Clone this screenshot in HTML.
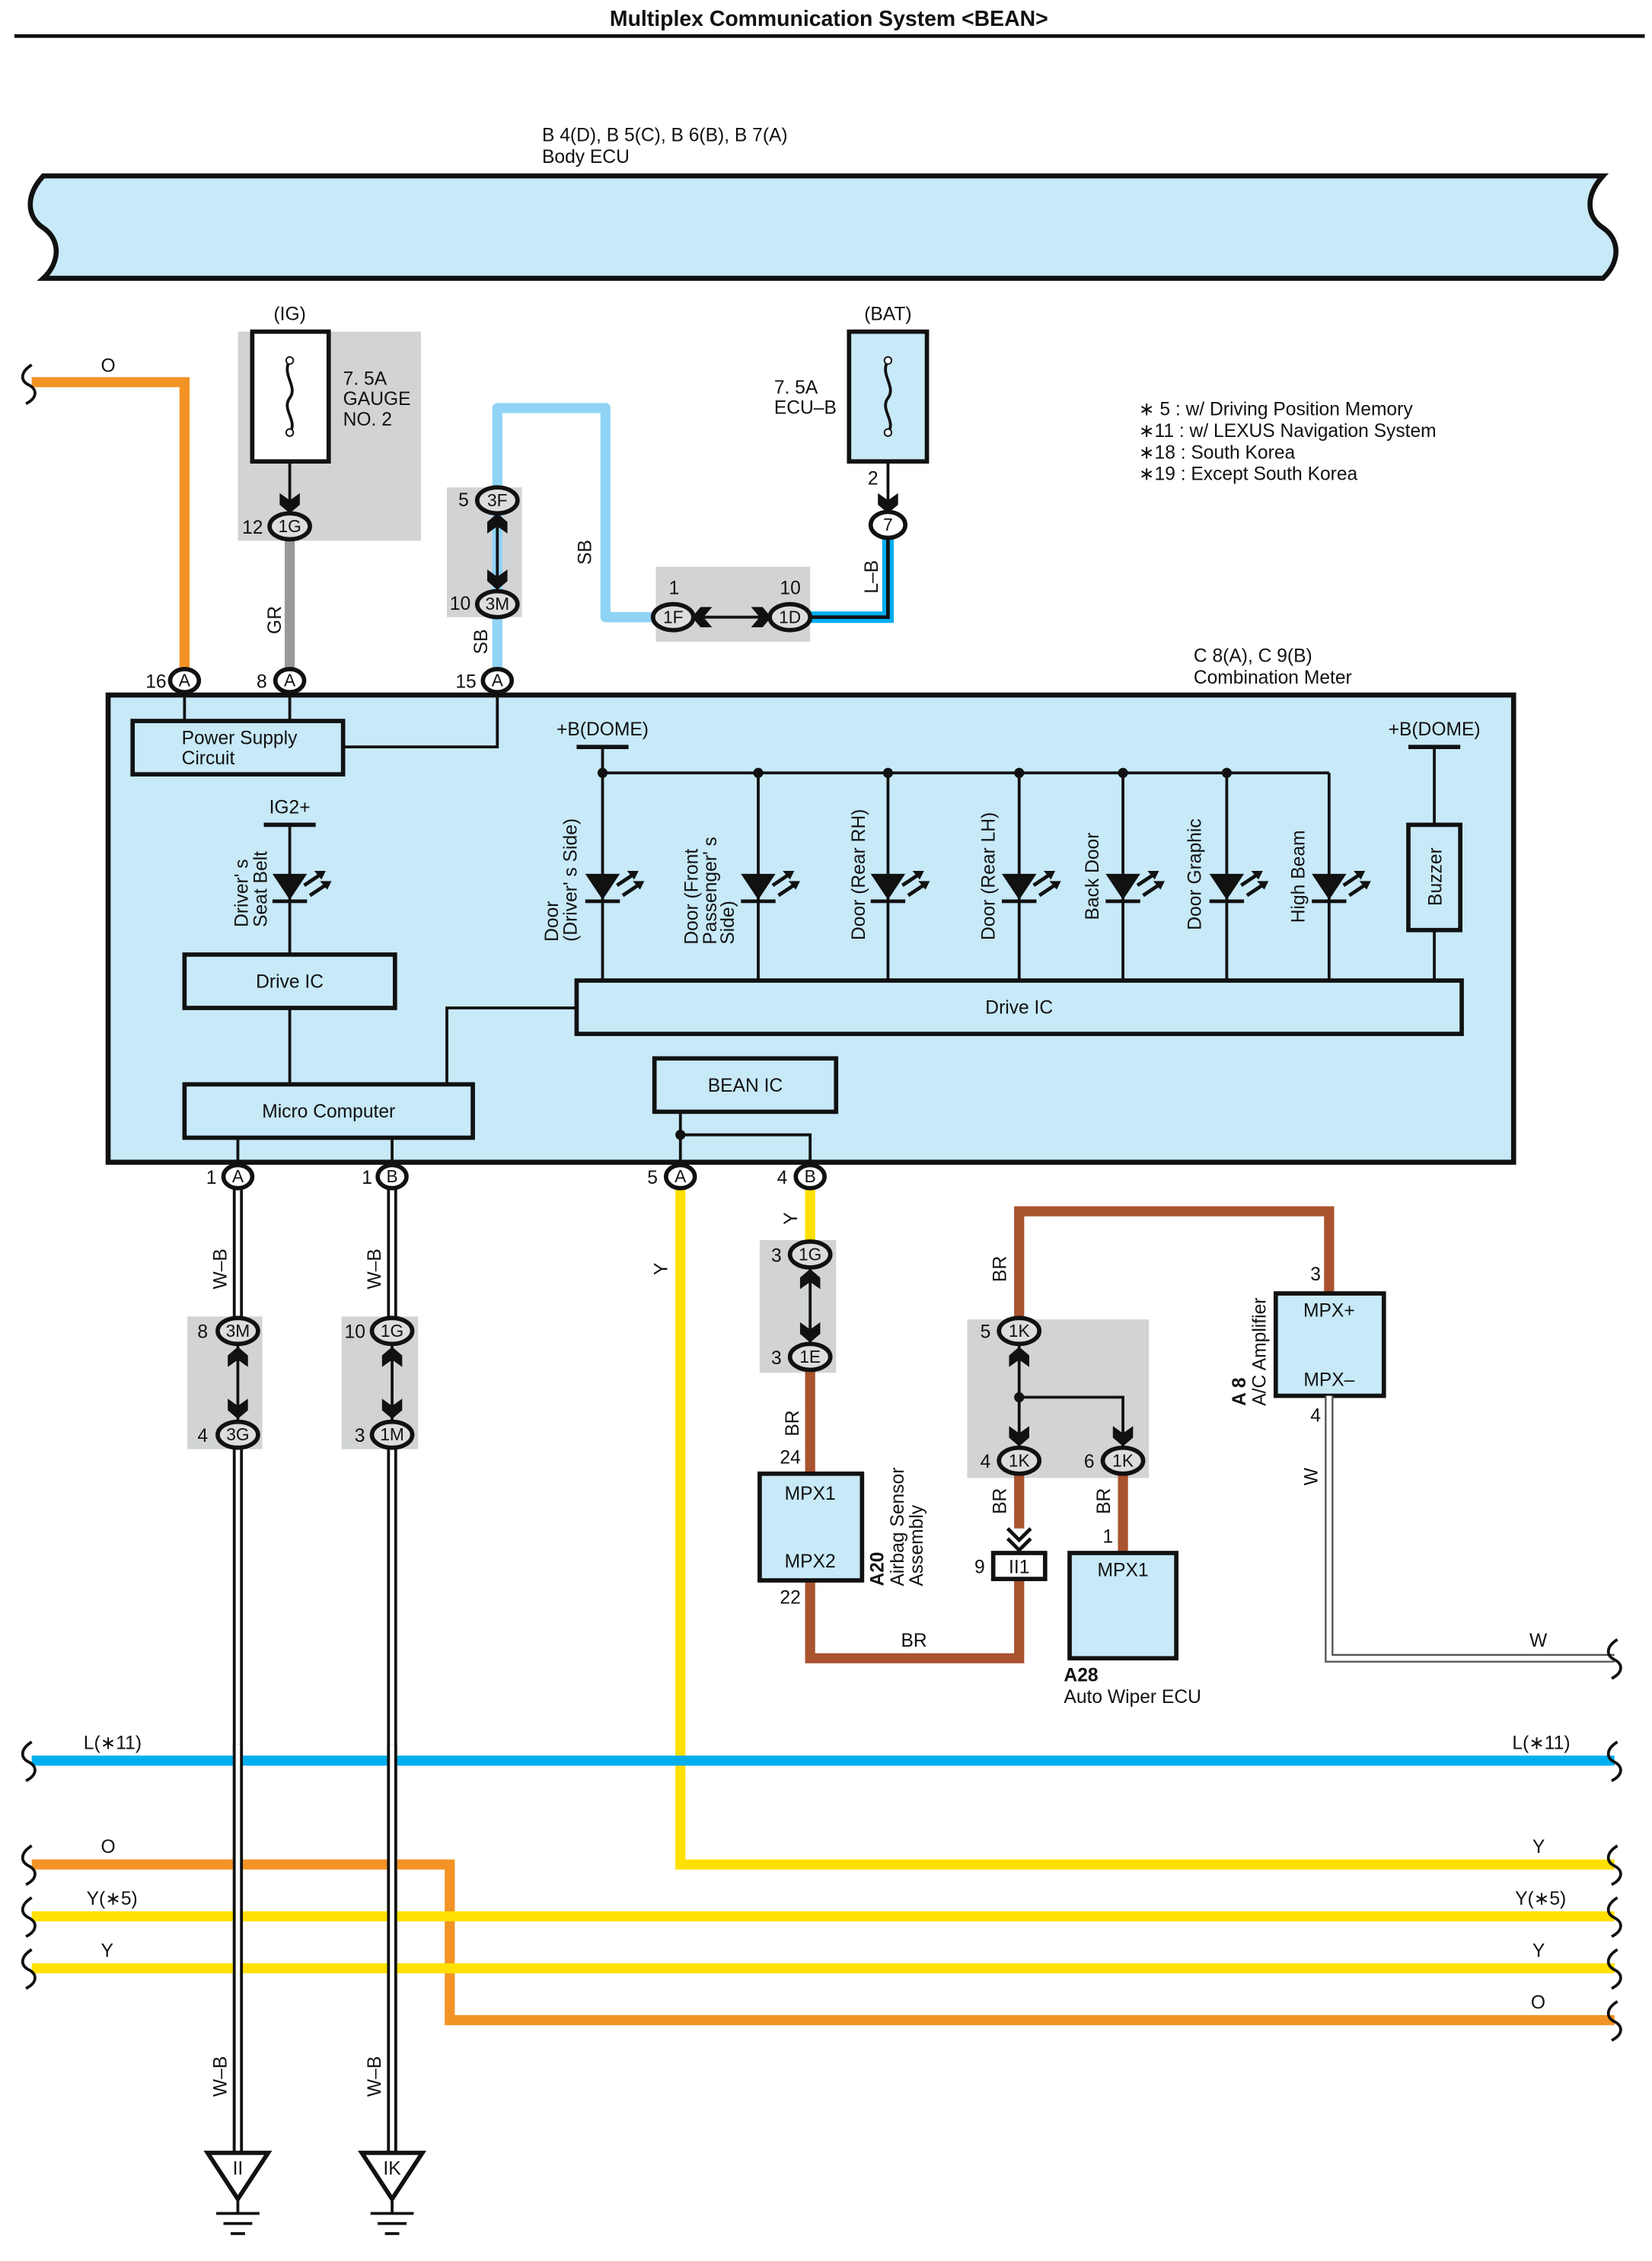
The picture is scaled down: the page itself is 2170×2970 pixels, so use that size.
<!DOCTYPE html>
<html><head><meta charset="utf-8"><style>
html,body{margin:0;padding:0;background:#fff;}
svg{display:block;}
text{font-family:"Liberation Sans",Arial,sans-serif;fill:#111;}
</style></head><body>
<svg width="2170" height="2970" viewBox="0 0 1146 1568" preserveAspectRatio="none" xmlns="http://www.w3.org/2000/svg">
<defs>
<g id="led"><polygon points="-12,-10 12,-10 0,8" fill="#111"/><line x1="-12" y1="9" x2="12" y2="9" stroke="#111" stroke-width="2.5"/><line x1="10" y1="-2" x2="22" y2="-10" stroke="#111" stroke-width="2.5"/><polygon points="25,-12 17,-12 22,-6" fill="#111"/><line x1="14" y1="5" x2="26" y2="-3" stroke="#111" stroke-width="2.5"/><polygon points="29,-5 21,-5 26,1" fill="#111"/></g>
<g id="arrD"><polygon points="-7,-8 0,-3 7,-8 7,0 0,6 -7,0" fill="#111"/></g>
<g id="arrU"><polygon points="-7,8 0,3 7,8 7,0 0,-6 -7,0" fill="#111"/></g>
<g id="gnd"><line x1="0" y1="32" x2="0" y2="42" stroke="#111" stroke-width="2"/><line x1="-15" y1="42" x2="15" y2="42" stroke="#111" stroke-width="2"/><line x1="-10" y1="49" x2="10" y2="49" stroke="#111" stroke-width="2"/><line x1="-5" y1="56" x2="5" y2="56" stroke="#111" stroke-width="2"/><polygon points="-21,0 21,0 0,32" fill="#fff" stroke="#111" stroke-width="3"/></g>
</defs>

<text x="575" y="18" font-size="15" font-weight="bold" text-anchor="middle">Multiplex Communication System &lt;BEAN&gt;</text>
<line x1="10" y1="25" x2="1141" y2="25" stroke="#111" stroke-width="2.5"/>

<text x="376" y="98" font-size="13">B 4(D), B 5(C), B 6(B), B 7(A)</text>
<text x="376" y="113" font-size="13">Body ECU</text>
<path d="M30,122 L1112,122 C1100,135 1100,150 1112,158 C1124,166 1124,182 1112,193 L30,193 C42,182 42,166 30,158 C18,150 18,135 30,122 Z" fill="#c7e9f8" stroke="#111" stroke-width="3.5"/>

<rect x="165" y="230" width="127" height="145" fill="#d1d3d4"/>
<rect x="310" y="338" width="52" height="90" fill="#d1d3d4"/>
<rect x="455" y="393" width="107" height="52" fill="#d1d3d4"/>
<rect x="130" y="913" width="52" height="92" fill="#d1d3d4"/>
<rect x="237" y="913" width="53" height="92" fill="#d1d3d4"/>
<rect x="527" y="860" width="53" height="92" fill="#d1d3d4"/>
<rect x="671" y="915" width="126" height="110" fill="#d1d3d4"/>

<path d="M22,265 L128,265 L128,465" fill="none" stroke="#f39325" stroke-width="7"/>
<path d="M22,253 C14,258 14,264 20,267 C26,270 26,276 18,280" fill="none" stroke="#111" stroke-width="2"/>
<text x="70" y="258" font-size="13">O</text>

<text x="201" y="222" font-size="13" text-anchor="middle">(IG)</text>
<rect x="175" y="230" width="53" height="90" fill="#fff" stroke="#111" stroke-width="3"/>
<path d="M201,250 C195,260 207,268 201,276 C195,284 207,292 201,300" fill="none" stroke="#111" stroke-width="2"/>
<circle cx="201" cy="250" r="2.5" fill="#fff" stroke="#111"/><circle cx="201" cy="300" r="2.5" fill="#fff" stroke="#111"/>
<line x1="201" y1="320" x2="201" y2="350" stroke="#111" stroke-width="2"/>
<use href="#arrD" x="201" y="350"/>
<text x="238" y="267" font-size="13">7. 5A</text>
<text x="238" y="281" font-size="13">GAUGE</text>
<text x="238" y="295" font-size="13">NO. 2</text>
<line x1="201" y1="373" x2="201" y2="465" stroke="#999" stroke-width="7"/>
<text transform="rotate(-90 195 430)" x="195" y="430" font-size="13" text-anchor="middle">GR</text>

<path d="M345,410 L345,283 L420,283 L420,428 L460,428" fill="none" stroke="#8fd3f5" stroke-width="7" stroke-linejoin="round"/>
<line x1="345" y1="428" x2="345" y2="465" stroke="#8fd3f5" stroke-width="7"/>
<line x1="345" y1="355" x2="345" y2="410" stroke="#111" stroke-width="2"/>
<use href="#arrU" x="345" y="362"/><use href="#arrD" x="345" y="403"/>
<text transform="rotate(-90 410 383)" x="410" y="383" font-size="13" text-anchor="middle">SB</text>
<text transform="rotate(-90 338 445)" x="338" y="445" font-size="13" text-anchor="middle">SB</text>

<text x="616" y="222" font-size="13" text-anchor="middle">(BAT)</text>
<rect x="589" y="230" width="54" height="90" fill="#c7e9f8" stroke="#111" stroke-width="3"/>
<path d="M616,250 C610,260 622,268 616,276 C610,284 622,292 616,300" fill="none" stroke="#111" stroke-width="2"/>
<circle cx="616" cy="250" r="2.5" fill="#fff" stroke="#111"/><circle cx="616" cy="300" r="2.5" fill="#fff" stroke="#111"/>
<line x1="616" y1="320" x2="616" y2="350" stroke="#111" stroke-width="2"/>
<use href="#arrD" x="616" y="350"/>
<text x="537" y="273" font-size="13">7. 5A</text>
<text x="537" y="287" font-size="13">ECU–B</text>
<text x="602" y="336" font-size="13">2</text>
<path d="M616,372 L616,428 L555,428" fill="none" stroke="#00aeef" stroke-width="8"/>
<path d="M616,372 L616,428 L555,428" fill="none" stroke="#111" stroke-width="2.5"/>
<text transform="rotate(-90 609 400)" x="609" y="400" font-size="13" text-anchor="middle">L–B</text>
<line x1="478" y1="428" x2="537" y2="428" stroke="#111" stroke-width="2"/>
<polygon points="480,428 486,421 494,421 488,428 494,435 486,435" fill="#111"/>
<polygon points="535,428 529,421 521,421 527,428 521,435 529,435" fill="#111"/>
<text x="464" y="412" font-size="13">1</text>
<text x="541" y="412" font-size="13">10</text>

<text x="790" y="288" font-size="13">∗ 5 : w/ Driving Position Memory</text>
<text x="790" y="303" font-size="13">∗11 : w/ LEXUS Navigation System</text>
<text x="790" y="318" font-size="13">∗18 : South Korea</text>
<text x="790" y="333" font-size="13">∗19 : Except South Korea</text>

<text x="828" y="459" font-size="13">C 8(A), C 9(B)</text>
<text x="828" y="474" font-size="13">Combination Meter</text>
<rect x="75" y="482" width="975" height="324" fill="#c7e9f8" stroke="#111" stroke-width="3.5"/>
<line x1="128" y1="480" x2="128" y2="500" stroke="#111" stroke-width="2"/>
<line x1="201" y1="480" x2="201" y2="500" stroke="#111" stroke-width="2"/>
<path d="M238,518 L345,518 L345,480" fill="none" stroke="#111" stroke-width="2"/>
<rect x="92" y="500" width="146" height="37" fill="#c7e9f8" stroke="#111" stroke-width="3"/>
<text x="126" y="516" font-size="13">Power Supply</text>
<text x="126" y="530" font-size="13">Circuit</text>

<text x="201" y="564" font-size="13" text-anchor="middle">IG2+</text>
<line x1="183" y1="572" x2="219" y2="572" stroke="#111" stroke-width="3"/>
<line x1="201" y1="572" x2="201" y2="662" stroke="#111" stroke-width="2"/>
<use href="#led" x="201" y="616"/>
<text transform="rotate(-90 172 643)" x="172" y="643" font-size="13">Driver' s</text>
<text transform="rotate(-90 185 643)" x="185" y="643" font-size="13">Seat Belt</text>
<rect x="128" y="662" width="146" height="37" fill="#c7e9f8" stroke="#111" stroke-width="3"/>
<text x="201" y="685" font-size="13" text-anchor="middle">Drive IC</text>
<line x1="201" y1="699" x2="201" y2="752" stroke="#111" stroke-width="2"/>
<path d="M310,752 L310,699 L400,699" fill="none" stroke="#111" stroke-width="2"/>
<rect x="128" y="752" width="200" height="37" fill="#c7e9f8" stroke="#111" stroke-width="3"/>
<text x="228" y="775" font-size="13" text-anchor="middle">Micro Computer</text>

<text x="418" y="510" font-size="13" text-anchor="middle">+B(DOME)</text>
<line x1="400" y1="518" x2="436" y2="518" stroke="#111" stroke-width="3"/>
<line x1="418" y1="518" x2="418" y2="680" stroke="#111" stroke-width="2"/>
<line x1="418" y1="536" x2="922" y2="536" stroke="#111" stroke-width="2"/>
<g fill="#111"><circle cx="418" cy="536" r="3.5"/><circle cx="526" cy="536" r="3.5"/><circle cx="616" cy="536" r="3.5"/><circle cx="707" cy="536" r="3.5"/><circle cx="779" cy="536" r="3.5"/><circle cx="851" cy="536" r="3.5"/></g>
<g stroke="#111" stroke-width="2"><line x1="526" y1="536" x2="526" y2="680"/><line x1="616" y1="536" x2="616" y2="680"/><line x1="707" y1="536" x2="707" y2="680"/><line x1="779" y1="536" x2="779" y2="680"/><line x1="851" y1="536" x2="851" y2="680"/><line x1="922" y1="536" x2="922" y2="680"/></g>
<use href="#led" x="418" y="616"/><use href="#led" x="526" y="616"/><use href="#led" x="616" y="616"/><use href="#led" x="707" y="616"/><use href="#led" x="779" y="616"/><use href="#led" x="851" y="616"/><use href="#led" x="922" y="616"/>
<g font-size="13">
<text transform="rotate(-90 387 653)" x="387" y="653">Door</text>
<text transform="rotate(-90 400 653)" x="400" y="653">(Driver' s Side)</text>
<text transform="rotate(-90 484 655)" x="484" y="655">Door (Front</text>
<text transform="rotate(-90 497 655)" x="497" y="655">Passenger' s</text>
<text transform="rotate(-90 509 655)" x="509" y="655">Side)</text>
<text transform="rotate(-90 600 652)" x="600" y="652">Door (Rear RH)</text>
<text transform="rotate(-90 690 652)" x="690" y="652">Door (Rear LH)</text>
<text transform="rotate(-90 762 638)" x="762" y="638">Back Door</text>
<text transform="rotate(-90 833 645)" x="833" y="645">Door Graphic</text>
<text transform="rotate(-90 905 640)" x="905" y="640">High Beam</text>
</g>
<text x="995" y="510" font-size="13" text-anchor="middle">+B(DOME)</text>
<line x1="977" y1="518" x2="1013" y2="518" stroke="#111" stroke-width="3"/>
<line x1="995" y1="518" x2="995" y2="680" stroke="#111" stroke-width="2"/>
<rect x="977" y="572" width="36" height="73" fill="#c7e9f8" stroke="#111" stroke-width="3"/>
<text transform="rotate(-90 1000 608)" x="1000" y="608" font-size="13" text-anchor="middle">Buzzer</text>
<rect x="400" y="680" width="614" height="37" fill="#c7e9f8" stroke="#111" stroke-width="3"/>
<text x="707" y="703" font-size="13" text-anchor="middle">Drive IC</text>

<rect x="454" y="734" width="126" height="37" fill="#c7e9f8" stroke="#111" stroke-width="3"/>
<text x="517" y="757" font-size="13" text-anchor="middle">BEAN IC</text>
<line x1="472" y1="771" x2="472" y2="810" stroke="#111" stroke-width="2"/>
<path d="M472,787 L562,787 L562,810" fill="none" stroke="#111" stroke-width="2"/>
<circle cx="472" cy="787" r="3.5" fill="#111"/>
<line x1="165" y1="789" x2="165" y2="810" stroke="#111" stroke-width="2"/>
<line x1="272" y1="789" x2="272" y2="810" stroke="#111" stroke-width="2"/>

<line x1="165" y1="825" x2="165" y2="1495" stroke="#111" stroke-width="7"/>
<line x1="165" y1="825" x2="165" y2="1495" stroke="#fff" stroke-width="3"/>
<line x1="272" y1="825" x2="272" y2="1495" stroke="#111" stroke-width="7"/>
<line x1="272" y1="825" x2="272" y2="1495" stroke="#fff" stroke-width="3"/>
<rect x="161" y="933" width="8" height="55" fill="#d1d3d4"/>
<rect x="268" y="933" width="8" height="55" fill="#d1d3d4"/>
<line x1="165" y1="932" x2="165" y2="985" stroke="#111" stroke-width="2"/>
<line x1="272" y1="932" x2="272" y2="985" stroke="#111" stroke-width="2"/>
<use href="#arrU" x="165" y="940"/><use href="#arrD" x="165" y="978"/>
<use href="#arrU" x="272" y="940"/><use href="#arrD" x="272" y="978"/>
<text transform="rotate(-90 157 880)" x="157" y="880" font-size="13" text-anchor="middle">W–B</text>
<text transform="rotate(-90 264 880)" x="264" y="880" font-size="13" text-anchor="middle">W–B</text>
<text transform="rotate(-90 157 1440)" x="157" y="1440" font-size="13" text-anchor="middle">W–B</text>
<text transform="rotate(-90 264 1440)" x="264" y="1440" font-size="13" text-anchor="middle">W–B</text>

<path d="M472,825 L472,1293 L1120,1293" fill="none" stroke="#ffe000" stroke-width="7"/>
<text transform="rotate(-90 463 880)" x="463" y="880" font-size="13" text-anchor="middle">Y</text>
<line x1="562" y1="825" x2="562" y2="862" stroke="#ffe000" stroke-width="7"/>
<text transform="rotate(-90 553 845)" x="553" y="845" font-size="13" text-anchor="middle">Y</text>
<line x1="562" y1="878" x2="562" y2="932" stroke="#111" stroke-width="2"/>
<use href="#arrU" x="562" y="886"/><use href="#arrD" x="562" y="925"/>

<path d="M562,950 L562,1022" stroke="#a9532f" stroke-width="7" fill="none"/>
<path d="M562,1096 L562,1150 L707,1150 L707,1095" stroke="#a9532f" stroke-width="7" fill="none"/>
<text transform="rotate(-90 554 987)" x="554" y="987" font-size="13" text-anchor="middle">BR</text>
<text x="541" y="1015" font-size="13">24</text>
<text x="541" y="1112" font-size="13">22</text>
<text x="625" y="1142" font-size="13">BR</text>
<rect x="527" y="1022" width="71" height="74" fill="#c7e9f8" stroke="#111" stroke-width="3"/>
<text x="562" y="1040" font-size="13" text-anchor="middle">MPX1</text>
<text x="562" y="1087" font-size="13" text-anchor="middle">MPX2</text>
<text transform="rotate(-90 613 1100)" x="613" y="1100" font-size="13" font-weight="bold">A20</text>
<text transform="rotate(-90 627 1100)" x="627" y="1100" font-size="13">Airbag Sensor</text>
<text transform="rotate(-90 640 1100)" x="640" y="1100" font-size="13">Assembly</text>

<path d="M707,915 L707,840 L922,840 L922,897" stroke="#a9532f" stroke-width="7" fill="none"/>
<text transform="rotate(-90 698 880)" x="698" y="880" font-size="13" text-anchor="middle">BR</text>
<line x1="707" y1="932" x2="707" y2="1005" stroke="#111" stroke-width="2"/>
<path d="M707,969 L779,969 L779,1005" fill="none" stroke="#111" stroke-width="2"/>
<circle cx="707" cy="969" r="3.5" fill="#111"/>
<use href="#arrU" x="707" y="940"/><use href="#arrD" x="707" y="997"/><use href="#arrD" x="779" y="997"/>
<line x1="707" y1="1022" x2="707" y2="1060" stroke="#a9532f" stroke-width="7"/>
<text transform="rotate(-90 698 1041)" x="698" y="1041" font-size="13" text-anchor="middle">BR</text>
<path d="M699,1060 L707,1068 L715,1060 M699,1067 L707,1075 L715,1067" fill="none" stroke="#111" stroke-width="2.5"/>
<rect x="689" y="1077" width="36" height="18" fill="#fff" stroke="#111" stroke-width="3"/>
<text x="707" y="1091" font-size="13" text-anchor="middle">II1</text>
<text x="676" y="1091" font-size="13">9</text>
<line x1="779" y1="1022" x2="779" y2="1077" stroke="#a9532f" stroke-width="7"/>
<text transform="rotate(-90 770 1041)" x="770" y="1041" font-size="13" text-anchor="middle">BR</text>
<text x="765" y="1070" font-size="13">1</text>
<rect x="742" y="1077" width="74" height="73" fill="#c7e9f8" stroke="#111" stroke-width="3"/>
<text x="779" y="1093" font-size="13" text-anchor="middle">MPX1</text>
<text x="738" y="1166" font-size="13" font-weight="bold">A28</text>
<text x="738" y="1181" font-size="13">Auto Wiper ECU</text>

<text x="909" y="888" font-size="13">3</text>
<rect x="885" y="897" width="75" height="71" fill="#c7e9f8" stroke="#111" stroke-width="3"/>
<text x="922" y="913" font-size="13" text-anchor="middle">MPX+</text>
<text x="922" y="961" font-size="13" text-anchor="middle">MPX–</text>
<text transform="rotate(-90 864 975)" x="864" y="975" font-size="13" font-weight="bold">A 8</text>
<text transform="rotate(-90 878 975)" x="878" y="975" font-size="13">A/C Amplifier</text>
<text x="909" y="986" font-size="13">4</text>
<path d="M922,968 L922,1150 L1120,1150" fill="none" stroke="#555" stroke-width="6"/>
<path d="M922,968 L922,1150 L1120,1150" fill="none" stroke="#fff" stroke-width="3.5"/>
<text transform="rotate(-90 914 1024)" x="914" y="1024" font-size="13" text-anchor="middle">W</text>
<text x="1061" y="1142" font-size="13">W</text>

<line x1="22" y1="1221" x2="1120" y2="1221" stroke="#00aeef" stroke-width="7"/>
<path d="M22,1293 L312,1293 L312,1401 L1120,1401" fill="none" stroke="#f39325" stroke-width="7"/>
<line x1="22" y1="1329" x2="1120" y2="1329" stroke="#ffe000" stroke-width="7"/>
<line x1="22" y1="1365" x2="1120" y2="1365" stroke="#ffe000" stroke-width="7"/>
<line x1="165" y1="1210" x2="165" y2="1495" stroke="#111" stroke-width="7"/>
<line x1="165" y1="1210" x2="165" y2="1495" stroke="#fff" stroke-width="3"/>
<line x1="272" y1="1210" x2="272" y2="1495" stroke="#111" stroke-width="7"/>
<line x1="272" y1="1210" x2="272" y2="1495" stroke="#fff" stroke-width="3"/>
<g font-size="13">
<text x="58" y="1213">L(∗11)</text><text x="1049" y="1213">L(∗11)</text>
<text x="70" y="1285">O</text><text x="1063" y="1285">Y</text>
<text x="60" y="1321">Y(∗5)</text><text x="1051" y="1321">Y(∗5)</text>
<text x="70" y="1357">Y</text><text x="1063" y="1357">Y</text>
<text x="1062" y="1393">O</text>
</g>
<g fill="none" stroke="#111" stroke-width="2">
<path d="M22,1208 C14,1213 14,1219 20,1222 C26,1225 26,1231 18,1235"/>
<path d="M22,1280 C14,1285 14,1291 20,1294 C26,1297 26,1303 18,1307"/>
<path d="M22,1316 C14,1321 14,1327 20,1330 C26,1333 26,1339 18,1343"/>
<path d="M22,1352 C14,1357 14,1363 20,1366 C26,1369 26,1375 18,1379"/>
<path d="M1122,1137 C1114,1142 1114,1148 1120,1151 C1126,1154 1126,1160 1118,1164"/>
<path d="M1122,1208 C1114,1213 1114,1219 1120,1222 C1126,1225 1126,1231 1118,1235"/>
<path d="M1122,1280 C1114,1285 1114,1291 1120,1294 C1126,1297 1126,1303 1118,1307"/>
<path d="M1122,1316 C1114,1321 1114,1327 1120,1330 C1126,1333 1126,1339 1118,1343"/>
<path d="M1122,1352 C1114,1357 1114,1363 1120,1366 C1126,1369 1126,1375 1118,1379"/>
<path d="M1122,1388 C1114,1393 1114,1399 1120,1402 C1126,1405 1126,1411 1118,1415"/>
</g>

<use href="#gnd" x="165" y="1493"/><use href="#gnd" x="272" y="1493"/>
<text x="165" y="1508" font-size="13" text-anchor="middle">II</text>
<text x="272" y="1508" font-size="13" text-anchor="middle">IK</text>

<g font-size="12" text-anchor="middle">
<g transform="translate(201,365)"><ellipse rx="14" ry="9" fill="#ddd" stroke="#111" stroke-width="3"/><text y="4">1G</text></g>
<g transform="translate(345,347)"><ellipse rx="14" ry="9" fill="#ddd" stroke="#111" stroke-width="3"/><text y="4">3F</text></g>
<g transform="translate(345,419)"><ellipse rx="14" ry="9" fill="#ddd" stroke="#111" stroke-width="3"/><text y="4">3M</text></g>
<g transform="translate(467,428)"><ellipse rx="14" ry="9" fill="#ddd" stroke="#111" stroke-width="3"/><text y="4">1F</text></g>
<g transform="translate(548,428)"><ellipse rx="14" ry="9" fill="#ddd" stroke="#111" stroke-width="3"/><text y="4">1D</text></g>
<g transform="translate(616,364)"><ellipse rx="12" ry="9" fill="#fff" stroke="#111" stroke-width="3"/><text y="4">7</text></g>
<g transform="translate(128,472)"><ellipse rx="10" ry="8" fill="#fff" stroke="#111" stroke-width="3"/><text y="4">A</text></g>
<g transform="translate(201,472)"><ellipse rx="10" ry="8" fill="#fff" stroke="#111" stroke-width="3"/><text y="4">A</text></g>
<g transform="translate(345,472)"><ellipse rx="10" ry="8" fill="#fff" stroke="#111" stroke-width="3"/><text y="4">A</text></g>
<g transform="translate(165,816)"><ellipse rx="10" ry="8" fill="#fff" stroke="#111" stroke-width="3"/><text y="4">A</text></g>
<g transform="translate(272,816)"><ellipse rx="10" ry="8" fill="#fff" stroke="#111" stroke-width="3"/><text y="4">B</text></g>
<g transform="translate(472,816)"><ellipse rx="10" ry="8" fill="#fff" stroke="#111" stroke-width="3"/><text y="4">A</text></g>
<g transform="translate(562,816)"><ellipse rx="10" ry="8" fill="#fff" stroke="#111" stroke-width="3"/><text y="4">B</text></g>
<g transform="translate(165,923)"><ellipse rx="14" ry="9" fill="#ddd" stroke="#111" stroke-width="3"/><text y="4">3M</text></g>
<g transform="translate(165,995)"><ellipse rx="14" ry="9" fill="#ddd" stroke="#111" stroke-width="3"/><text y="4">3G</text></g>
<g transform="translate(272,923)"><ellipse rx="14" ry="9" fill="#ddd" stroke="#111" stroke-width="3"/><text y="4">1G</text></g>
<g transform="translate(272,995)"><ellipse rx="14" ry="9" fill="#ddd" stroke="#111" stroke-width="3"/><text y="4">1M</text></g>
<g transform="translate(562,870)"><ellipse rx="14" ry="9" fill="#ddd" stroke="#111" stroke-width="3"/><text y="4">1G</text></g>
<g transform="translate(562,941)"><ellipse rx="14" ry="9" fill="#ddd" stroke="#111" stroke-width="3"/><text y="4">1E</text></g>
<g transform="translate(707,923)"><ellipse rx="14" ry="9" fill="#ddd" stroke="#111" stroke-width="3"/><text y="4">1K</text></g>
<g transform="translate(707,1013)"><ellipse rx="14" ry="9" fill="#ddd" stroke="#111" stroke-width="3"/><text y="4">1K</text></g>
<g transform="translate(779,1013)"><ellipse rx="14" ry="9" fill="#ddd" stroke="#111" stroke-width="3"/><text y="4">1K</text></g>
</g>
<g font-size="13">
<text x="168" y="370">12</text>
<text x="318" y="351">5</text><text x="312" y="423">10</text>
<text x="101" y="477">16</text><text x="178" y="477">8</text><text x="316" y="477">15</text>
<text x="143" y="821">1</text><text x="251" y="821">1</text><text x="449" y="821">5</text><text x="539" y="821">4</text>
<text x="137" y="928">8</text><text x="137" y="1000">4</text>
<text x="239" y="928">10</text><text x="246" y="1000">3</text>
<text x="535" y="875">3</text><text x="535" y="946">3</text>
<text x="680" y="928">5</text><text x="680" y="1018">4</text><text x="752" y="1018">6</text>
</g>
</svg>
</body></html>
